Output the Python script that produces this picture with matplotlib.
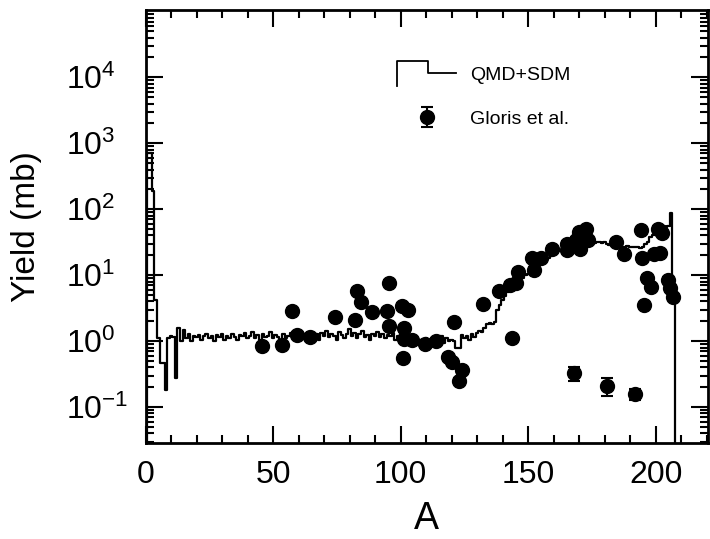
import numpy as np
import matplotlib.pyplot as plt
from matplotlib.legend_handler import HandlerBase
from matplotlib.lines import Line2D
from matplotlib.ticker import MultipleLocator, LogLocator

plt.rcParams['font.family'] = ['Liberation Sans Narrow', 'Liberation Sans', 'DejaVu Sans']
plt.rcParams['mathtext.fontset'] = 'custom'
plt.rcParams['mathtext.rm'] = 'Liberation Sans Narrow'
plt.rcParams['mathtext.default'] = 'regular'

# QMD+SDM yield per mass number A = 1..207 (mb)
hist_yield = [
    700, 700, 190, 4.2, 1.1, 0.46, 0.46, 0.18, 1.1, 1.2,
    1.15, 0.28, 1.6, 1.0, 1.5, 1.1, 1.3, 1.0, 1.2, 1.15,
    1.25, 1.05, 1.2, 1.3, 1.1, 1.2, 1.0, 1.25, 1.15, 1.3,
    1.05, 1.2, 1.1, 1.3, 1.15, 1.05, 1.25, 1.2, 1.35, 1.1,
    1.2, 1.4, 1.1, 1.25, 1.05, 1.3, 1.15, 1.2, 1.4, 1.1,
    1.25, 1.15, 1.05, 1.3, 1.1, 1.2, 1.35, 1.15, 1.25, 1.05,
    1.3, 1.2, 1.1, 1.4, 1.25, 1.15, 1.3, 1.05, 1.35, 1.2,
    1.45, 1.15, 1.3, 1.2, 1.05, 1.4, 1.25, 1.1, 1.3, 1.55,
    1.2, 1.35, 1.1, 1.3, 1.45, 1.15, 1.25, 1.05, 1.3, 1.2,
    1.4, 1.15, 1.3, 1.1, 1.25, 1.2, 1.35, 1.05, 1.2, 1.1,
    1.3, 1.05, 1.15, 0.95, 1.1, 1.0, 0.9, 1.05, 0.95, 1.1,
    0.95, 1.0, 1.15, 0.95, 1.05, 1.2, 0.95, 1.1, 1.0, 1.05,
    1.0, 0.8, 0.78, 1.25, 1.1, 1.2, 1.05, 1.3, 1.15, 1.35,
    1.45, 1.4, 1.6, 1.85, 1.9, 1.8, 1.95, 2.95, 3.5, 4.2,
    4.9, 5.6, 6.2, 6.8, 7.6, 8.2, 9.0, 9.0, 10, 10.5,
    11.5, 12.7, 13.5, 14.5, 15.5, 16.8, 17.5, 18.5, 19.5, 21,
    22, 23, 24, 25.6, 26, 27, 28, 28.5, 29, 30,
    30, 31, 30, 31, 32, 31, 32, 32, 31, 32,
    30, 28.5, 28.5, 28, 29, 28, 27, 27, 28, 27,
    26.5, 27, 27, 26, 27, 30, 32, 38, 40, 42,
    45, 55, 55, 54, 56, 87, 6,
]
hist_a = list(range(1, len(hist_yield) + 1))

# Gloris et al. data
exp_a = [45.6, 53.4, 57.3, 59.3, 64.5, 74.1, 82.2, 83.1, 84.5, 88.8,
         95.6, 94.7, 100.5, 102.8, 95.3, 101.2, 101.2, 104.5, 109.7, 113.7,
         100.8, 120.9, 118.5, 120.2, 123.9, 122.8, 132.4, 138.5, 142.9, 145.1,
         146.0, 143.8, 152.5, 151.6, 154.9, 159.5, 165.4, 165.1, 170.0, 172.6,
         168.7, 170.6, 173.3, 170.5, 184.4, 187.7, 194.2, 194.6, 200.8, 202.7,
         199.5, 201.8, 196.6, 198.1, 195.5, 204.7, 205.7, 206.9, 168.0, 180.9,
         192.0]
exp_y = [0.84, 0.87, 2.9, 1.23, 1.16, 2.33, 2.08, 5.8, 3.9, 2.78,
         7.6, 2.85, 3.4, 3.0, 1.69, 1.56, 1.07, 1.03, 0.92, 1.0,
         0.56, 1.96, 0.58, 0.49, 0.36, 0.25, 3.7, 5.8, 7.2, 7.5,
         11.2, 1.1, 11.9, 18.5, 18.5, 25, 30, 24, 45, 51,
         34, 30, 34, 25, 32, 21, 48, 18.5, 51, 43,
         21, 22, 9.2, 6.6, 3.5, 8.4, 6.5, 4.7, 0.33, 0.21,
         0.157]
exp_err = [0.1 * v for v in exp_y[:-3]] + [0.08, 0.065, 0.03]


class StepHandler(HandlerBase):
    def create_artists(self, legend, orig_handle, xdescent, ydescent,
                       width, height, fontsize, trans):
        x = np.array([0, 0, 0.52, 0.52, 1.0]) * width - xdescent
        y = np.array([-0.4, 1.4, 1.4, 0.5, 0.5]) * height - ydescent
        line = Line2D(x, y, color='black', lw=1.3, transform=trans)
        return [line]


fig = plt.figure(figsize=(7.1, 5.39), dpi=100)
ax = fig.add_axes([0.205, 0.178, 0.792, 0.803])

x_steps = [0] + hist_a + [hist_a[-1] + 1]
y_steps = [1e-3] + hist_yield + [1e-3]
step_line, = ax.step(x_steps, y_steps, where='mid', color='black', lw=1.6,
                     label='QMD+SDM')
eb = ax.errorbar(exp_a, exp_y, yerr=exp_err, fmt='o', color='black', ms=10,
                 capsize=4, elinewidth=1.5, capthick=1.5, label='Gloris et al.')

ax.set_yscale('log')
ax.set_xlim(0, 220.5)
ax.set_ylim(0.0285, 1.04e5)

ax.set_xticks([0, 50, 100, 150, 200])
ax.xaxis.set_minor_locator(MultipleLocator(10))
ax.set_yticks([1e-1, 1e0, 1e1, 1e2, 1e3, 1e4])
ax.yaxis.set_minor_locator(LogLocator(base=10, subs=np.arange(2, 10), numticks=20))

ax.tick_params(which='both', direction='in', top=True, right=True, width=1.5)
ax.tick_params(which='major', length=12, labelsize=23)
ax.tick_params(which='minor', length=6)
ax.tick_params(axis='x', pad=12)
ax.tick_params(axis='y', pad=57)
plt.setp(ax.get_yticklabels(), ha='left')
for s in ax.spines.values():
    s.set_linewidth(2)

ax.set_xlabel('A', fontsize=27)
ax.xaxis.set_label_coords(0.5, -0.135)
ax.set_ylabel('Yield (mb)', fontsize=24)
ax.yaxis.set_label_coords(-0.185, 0.5)

ax.legend([step_line, eb], ['QMD+SDM', 'Gloris et al.'],
          handler_map={step_line: StepHandler()},
          loc='upper left', bbox_to_anchor=(0.448, 0.87), frameon=False,
          fontsize=14, handlelength=3.0, handletextpad=0.75,
          labelspacing=1.35, borderpad=0, borderaxespad=0)

fig.savefig('out.png', dpi=100)
